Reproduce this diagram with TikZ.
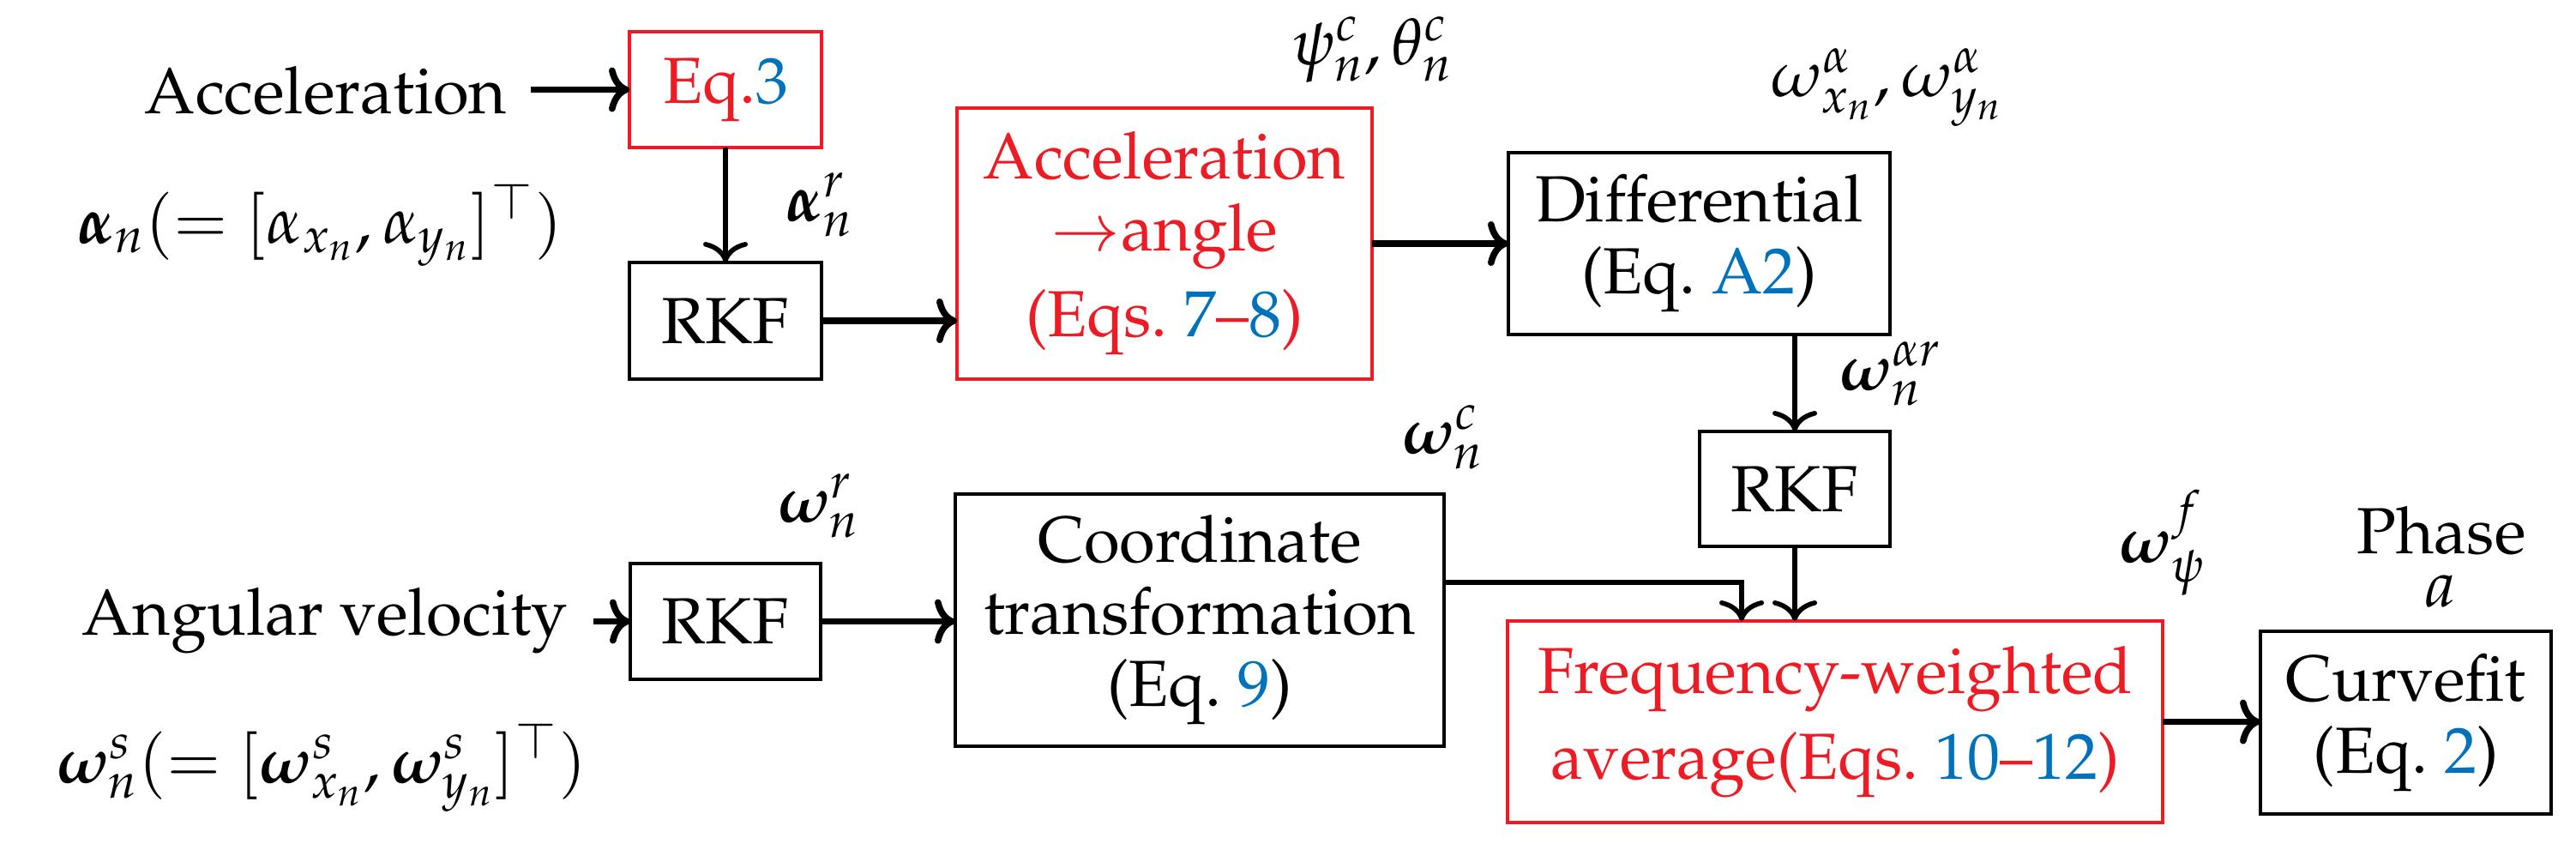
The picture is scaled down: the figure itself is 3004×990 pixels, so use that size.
\documentclass[tikz,border=0pt]{standalone}
\usepackage[T1]{fontenc}
\usepackage{mathpazo}
\usepackage{amsmath,bm}
\usetikzlibrary{arrows.meta}
\definecolor{myred}{RGB}{237,28,36}
\definecolor{myblue}{RGB}{0,114,188}
\newcommand{\bl}[1]{\textcolor{myblue}{#1}}
\begin{document}
\begin{tikzpicture}[x=0.25pt,y=-0.25pt,
  every node/.style={font=\fontsize{19}{21}\selectfont, inner sep=0pt, outer sep=0pt},
  blk/.style={draw=black, line width=1.1pt, align=center},
  redb/.style={draw=myred, line width=1.1pt, align=center, text=myred},
  harr/.style={line width=1.9pt, -{To[length=6pt,width=13pt]}},
  varr/.style={line width=1.4pt, -{To[length=6pt,width=13pt]}},
  lbl/.style={align=center}]
\useasboundingbox (0,0) rectangle (3004,990);
% boxes
\node[redb, minimum width=56pt, minimum height=33.75pt] (eq3) at (846,104.5) {Eq.\bl{3}};
\node[blk, minimum width=56pt, minimum height=34pt] (rkf1) at (846,374) {RKF};
\node[redb, minimum width=121pt, minimum height=79pt] (acc) at (1358,284) {Acceleration\\$\rightarrow$angle\\[4pt](Eqs.~\bl{7}--\bl{8})};
\node[blk, minimum width=111.25pt, minimum height=53pt] (diff) at (1981.5,284) {Differential\\(Eq.~\bl{A2})};
\node[blk, minimum width=55.5pt, minimum height=33.5pt] (rkf3) at (2093,570) {RKF};
\node[blk, minimum width=55.5pt, minimum height=33.75pt] (rkf2) at (846,724.5) {RKF};
\node[blk, minimum width=142.5pt, minimum height=73.5pt] (coord) at (1399,723) {Coordinate\\transformation\\(Eq.~\bl{9})};
\node[redb, minimum width=191pt, minimum height=58.75pt] (fwa) at (2140,841.5) {Frequency-weighted\\[4pt]average(Eqs.~\bl{10}--\bl{12})};
\node[blk, minimum width=84.75pt, minimum height=53.25pt] (curve) at (2805.5,842.5) {Curvefit\\(Eq.~\bl{2})};
% inputs
\node[anchor=base] (accin) at (380,132) {Acceleration};
\node[anchor=base] (avin) at (379,740) {Angular velocity};
% labels
\node[anchor=base] (lalpha) at (373,283) {$\bm{\alpha}_n(=[\alpha_{x_n},\alpha_{y_n}]^{\top})$};
\node[lbl] (lalphar) at (956,239) {$\bm{\alpha}_n^r$};
\node[lbl] (lpsi) at (1600,58) {$\psi_n^c,\theta_n^c$};
\node[lbl] (lomxy) at (2201,102) {$\omega_{x_n}^{\alpha},\omega_{y_n}^{\alpha}$};
\node[lbl] (lomar) at (2205,436) {$\bm{\omega}_n^{\alpha r}$};
\node[lbl] (lomr) at (955,590) {$\bm{\omega}_n^r$};
\node[lbl] (lomc) at (1683,510) {$\bm{\omega}_n^c$};
\node[lbl] (lomf) at (2522,633) {$\bm{\omega}_\psi^f$};
\node[anchor=base] (lphase) at (2847,645) {Phase};
\node[anchor=base] (la) at (2846,707) {$a$};
\node[anchor=base] (loms) at (375,912) {$\bm{\omega}_n^s(=[\bm{\omega}_{x_n}^s,\bm{\omega}_{y_n}^s]^{\top})$};
% connectors
\draw[harr, shorten <=7pt] (accin.east |- eq3.west) -- (eq3.west);
\draw[varr] (eq3.south) -- (rkf1.north);
\draw[harr] (rkf1.east) -- (rkf1.east -| acc.west);
\draw[harr] (acc.east) -- (diff.west);
\draw[varr] (diff.south -| rkf3.north) -- (rkf3.north);
\draw[varr] (rkf3.south) -- (rkf3.south |- fwa.north);
\draw[harr, shorten <=7.5pt] (avin.east |- rkf2.west) -- (rkf2.west);
\draw[harr] (rkf2.east) -- (rkf2.east -| coord.west);
\draw[varr] ([yshift=11pt]coord.east) -| ([xshift=-27.25pt]fwa.north);
\draw[harr] (fwa.east) -- (fwa.east -| curve.west);
\end{tikzpicture}
\end{document}
